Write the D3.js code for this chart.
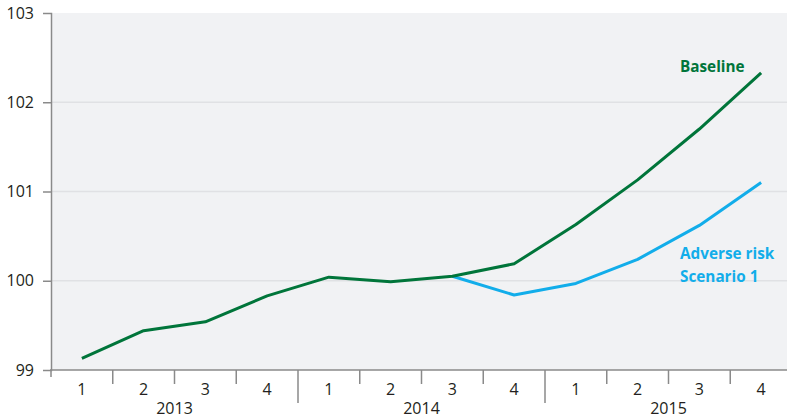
<!DOCTYPE html>
<html>
<head>
<meta charset="utf-8">
<script src="https://cdn.jsdelivr.net/npm/d3@7"></script>
<style>
  html, body { margin: 0; padding: 0; background: #ffffff; }
  svg { display: block; font-family: "Open Sans", sans-serif; }
</style>
</head>
<body>
<svg id="chart" width="787" height="418"></svg>
<script>
const years = ["2013", "2014", "2015"];
const quarters = ["1", "2", "3", "4"];
const periods = ["2013Q1","2013Q2","2013Q3","2013Q4","2014Q1","2014Q2","2014Q3","2014Q4","2015Q1","2015Q2","2015Q3","2015Q4"];
const baseline = [99.13, 99.44, 99.54, 99.83, 100.04, 99.99, 100.05, 100.19, 100.63, 101.13, 101.70, 102.33];
const adversePeriods = ["2014Q3","2014Q4","2015Q1","2015Q2","2015Q3","2015Q4"];
const adverse = [100.05, 99.84, 99.97, 100.24, 100.62, 101.10];
const yTicks = [99, 100, 101, 102, 103];
const seriesLabels = { baseline: "Baseline", adverse: ["Adverse risk", "Scenario 1"] };

const svg = d3.select("#chart");
const mLeft = 51, mTop = 13, mBottom = 370, mRight = 792;

const x = d3.scaleLinear().domain([0, periods.length]).range([mLeft, mRight]);
const y = d3.scaleLinear().domain([99, 103]).range([mBottom, mTop]);
const xc = p => x(periods.indexOf(p) + 0.5);

const green = "#00753a";
const blue = "#12adea";
const axisCol = "#8a8a8a";
const textCol = "#231f20";

// plot background
svg.append("rect")
  .attr("x", mLeft).attr("y", mTop)
  .attr("width", 787 - mLeft).attr("height", mBottom - mTop)
  .attr("fill", "#f1f2f4");

// gridlines
svg.append("g").selectAll("line")
  .data(yTicks.filter(v => v > 99 && v < 103))
  .join("line")
  .attr("x1", mLeft).attr("x2", 787)
  .attr("y1", d => y(d)).attr("y2", d => y(d))
  .attr("stroke", "#e0e1e4").attr("stroke-width", 1.5);

// y axis
const yAxis = d3.axisLeft(y).tickValues(yTicks).tickSize(8).tickPadding(9).tickFormat(d3.format("d"));
const gy = svg.append("g").attr("transform", `translate(${mLeft},0)`).call(yAxis);
gy.select(".domain").attr("stroke", axisCol).attr("stroke-width", 1.5);
gy.selectAll(".tick line").attr("stroke", axisCol).attr("stroke-width", 1.5)
  .filter(d => d === 103 || d === 99).attr("stroke", "none");
gy.selectAll(".tick text").attr("font-size", 16).attr("fill", textCol)
  .attr("font-family", "Open Sans, sans-serif");

// x axis line
svg.append("line")
  .attr("x1", mLeft - 1).attr("x2", 787)
  .attr("y1", mBottom).attr("y2", mBottom)
  .attr("stroke", axisCol).attr("stroke-width", 1.5);

// quarter boundary ticks
const boundaries = d3.range(0, periods.length);
svg.append("g").selectAll("line")
  .data(boundaries)
  .join("line")
  .attr("x1", d => x(d)).attr("x2", d => x(d))
  .attr("y1", mBottom)
  .attr("y2", d => d === 0 ? mBottom + 7 : (d % 4 === 0 ? mBottom + 33 : mBottom + 14))
  .attr("stroke", axisCol).attr("stroke-width", 1.5);

// quarter labels
svg.append("g").selectAll("text")
  .data(periods)
  .join("text")
  .attr("x", (d, i) => x(i + 0.5))
  .attr("y", 394.5)
  .attr("text-anchor", "middle")
  .attr("font-size", 16).attr("fill", textCol)
  .text((d, i) => quarters[i % 4]);

// year labels
svg.append("g").selectAll("text")
  .data(years)
  .join("text")
  .attr("x", (d, i) => x(i * 4 + 2))
  .attr("y", 413.5)
  .attr("text-anchor", "middle")
  .attr("font-size", 16).attr("fill", textCol)
  .text(d => d);

// lines
const line = d3.line().x(d => xc(d.p)).y(d => y(d.v));
svg.append("path")
  .datum(adversePeriods.map((p, i) => ({ p, v: adverse[i] })))
  .attr("d", line).attr("fill", "none")
  .attr("stroke", blue).attr("stroke-width", 3).attr("stroke-linejoin", "round");
svg.append("path")
  .datum(periods.map((p, i) => ({ p, v: baseline[i] })))
  .attr("d", line).attr("fill", "none")
  .attr("stroke", green).attr("stroke-width", 3).attr("stroke-linejoin", "round");

// series labels
svg.append("text")
  .attr("x", 680).attr("y", 72)
  .attr("font-size", 15.3).attr("font-weight", "bold").attr("fill", green)
  .text(seriesLabels.baseline);
svg.append("text")
  .attr("x", 680).attr("y", 259)
  .attr("font-size", 15.3).attr("font-weight", "bold").attr("fill", blue)
  .selectAll("tspan")
  .data(seriesLabels.adverse)
  .join("tspan")
  .attr("x", 680)
  .attr("dy", (d, i) => i === 0 ? 0 : 23)
  .text(d => d);
</script>
</body>
</html>
